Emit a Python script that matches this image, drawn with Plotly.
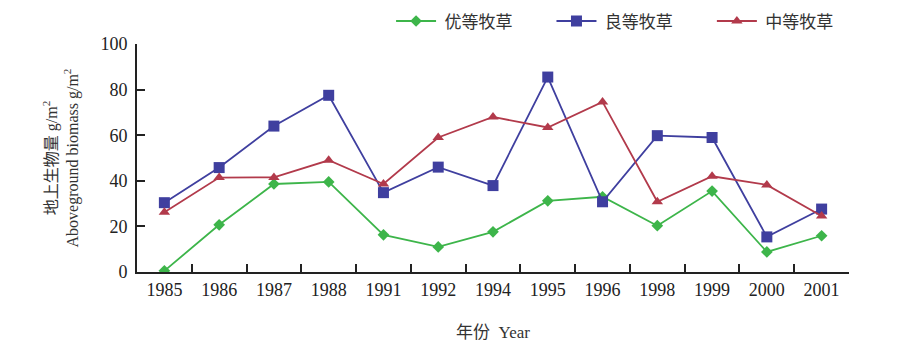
import plotly.graph_objects as go

years = ["1985", "1986", "1987", "1988", "1991", "1992", "1994", "1995",
         "1996", "1998", "1999", "2000", "2001"]
excellent = [0.5, 20.7, 38.6, 39.5, 16.3, 11.0, 17.6, 31.2, 33.0, 20.3, 35.5, 8.8, 15.9]
good = [30.4, 45.8, 64.0, 77.5, 34.8, 46.0, 37.9, 85.5, 30.8, 59.8, 59.0, 15.4, 27.6]
medium = [26.2, 41.4, 41.5, 49.0, 38.6, 59.0, 68.0, 63.4, 74.6, 30.8, 42.0, 38.2, 24.6]

names = ["优等牧草", "良等牧草", "中等牧草"]
colors = ["#3DB54A", "#3F3F9F", "#B23A4B"]
symbols = ["diamond", "square", "triangle-up"]
sizes = [9, 11, 10]
series = [excellent, good, medium]

font_family = "Liberation Serif, Noto Sans CJK SC, serif"

fig = go.Figure()
for name, vals, c, s, sz in zip(names, series, colors, symbols, sizes):
    fig.add_trace(go.Scatter(
        x=years, y=vals, name="\u2009" + name + "\u2003\u2003", mode="lines+markers",
        line=dict(color=c, width=1.8),
        marker=dict(symbol=s, size=sz, color=c),
    ))

fig.update_layout(
    width=899, height=347,
    margin=dict(l=137, r=50, t=44, b=75, autoexpand=False),
    paper_bgcolor="white", plot_bgcolor="white",
    font=dict(family=font_family, size=17, color="#222"),
    showlegend=True,
    legend=dict(orientation="h", x=0.435, y=0.99, xref="container", yref="container",
                xanchor="left", yanchor="top",
                font=dict(size=17, color="#333"), itemwidth=40,
                bgcolor="rgba(0,0,0,0)"),
    xaxis=dict(type="category", range=[-0.5, 12.5], showline=True, linecolor="#222", linewidth=2,
               ticks="inside", tickson="boundaries", ticklen=8, tickwidth=1.5,
               tickcolor="#222", showgrid=False, zeroline=False,
               tickfont=dict(size=18),
               title=dict(text="年份  Year", font=dict(size=17, color="#333"), standoff=28)),
    yaxis=dict(range=[0, 100], dtick=20, showline=True, linecolor="#222", linewidth=2,
               ticks="inside", ticklen=8, tickwidth=1.5, tickcolor="#222",
               showgrid=False, zeroline=False, ticklabelstandoff=4,
               tickfont=dict(size=18),
               title=dict(text="地上生物量 g/m<sup>2</sup><br>Aboveground biomass g/m<sup>2</sup>",
                          font=dict(size=16, color="#333"), standoff=18)),
)

fig.write_html("out.html")
